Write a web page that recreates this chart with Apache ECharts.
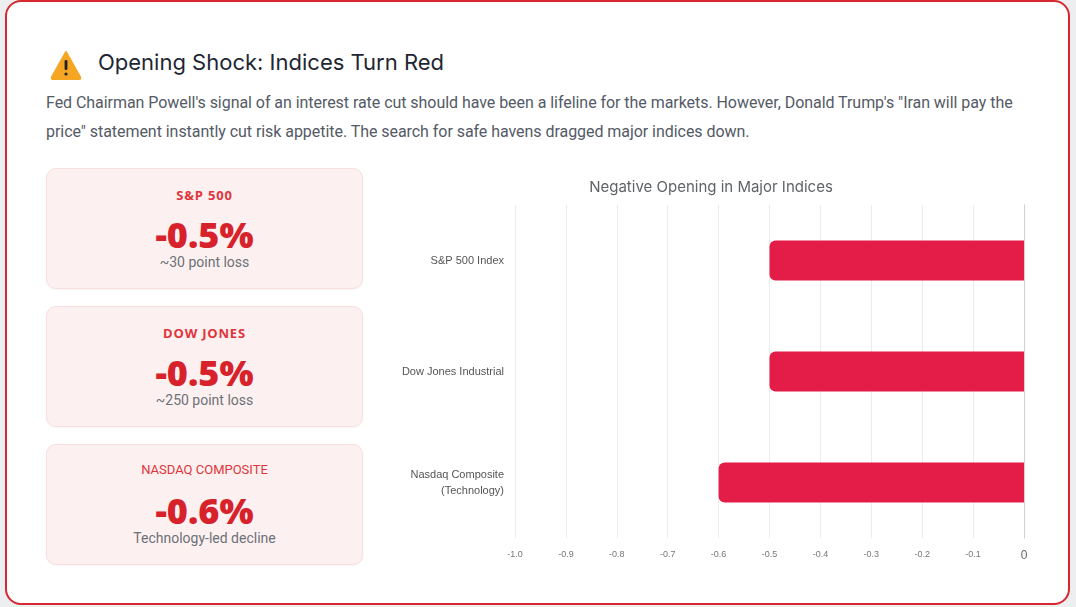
<!DOCTYPE html>
<html><head><meta charset="utf-8">
<script src="https://cdn.jsdelivr.net/npm/echarts@6/dist/echarts.min.js"></script>
<style>
html,body{margin:0;padding:0;width:1076px;height:607px;overflow:hidden;background:#eceef0;font-family:Roboto,"Noto Sans",sans-serif;}
.card{position:absolute;left:5px;top:0px;width:1061px;height:601px;border:2px solid #d7282f;border-radius:16px;background:#fff;}
.title{position:absolute;left:91px;top:47px;font-family:Inter,Roboto,sans-serif;font-size:22px;color:#1f2633;font-weight:400;}
.icon{position:absolute;left:43px;top:48px;}
.desc{position:absolute;left:39px;top:86px;width:1000px;font-size:16px;line-height:29px;color:#545a66;letter-spacing:-0.05px;}
.kpi{position:absolute;left:39px;width:315px;height:119px;background:#fdf0f0;border:1px solid #f9dede;border-radius:10px;text-align:center;box-shadow:0 1px 2px rgba(0,0,0,0.04);}
.kpi .lab{position:absolute;left:0;right:0;top:17px;font-size:13px;font-weight:700;color:#e0353b;letter-spacing:0.8px;font-family:"Open Sans",sans-serif;}
.kpi .lab.thin{font-weight:400;letter-spacing:0;font-family:Roboto,sans-serif;}
.kpi .val{position:absolute;left:0;right:0;top:41px;font-size:36px;font-weight:800;color:#d7222b;font-family:"Open Sans",sans-serif;}
.kpi .sub{position:absolute;left:0;right:0;top:85px;font-size:14px;color:#6c7078;}
#chart{position:absolute;left:375px;top:165px;width:670px;height:400px;}
</style></head>
<body>
<div class="card">
  <svg class="icon" width="32" height="30" viewBox="0 0 32 30"><path d="M16 2 L30 27 Q31 29 29 29 L3 29 Q1 29 2 27 Z" fill="#f5a623" stroke="#f5a623" stroke-linejoin="round" stroke-width="2"/><rect x="14.6" y="10" width="2.8" height="10" rx="1.2" fill="#222"/><circle cx="16" cy="24" r="1.6" fill="#222"/></svg>
  <div class="title">Opening Shock: Indices Turn Red</div>
  <div class="desc">Fed Chairman Powell's signal of an interest rate cut should have been a lifeline for the markets. However, Donald Trump's "Iran will pay the price" statement instantly cut risk appetite. The search for safe havens dragged major indices down.</div>
  <div class="kpi" style="top:166px"><div class="lab">S&amp;P 500</div><div class="val">-0.5%</div><div class="sub">~30 point loss</div></div>
  <div class="kpi" style="top:304px"><div class="lab">DOW JONES</div><div class="val">-0.5%</div><div class="sub">~250 point loss</div></div>
  <div class="kpi" style="top:442px"><div class="lab thin">NASDAQ COMPOSITE</div><div class="val">-0.6%</div><div class="sub">Technology-led decline</div></div>
</div>
<div id="chart"></div>
<script>
const categories = ["S&P 500 Index", "Dow Jones Industrial", "Nasdaq Composite\n(Technology)"];
const changes = [-0.5, -0.5, -0.6];
const chartTitle = "Negative Opening in Major Indices";

const chart = echarts.init(document.getElementById('chart'));
chart.setOption({
  animation: false,
  title: { text: chartTitle, left: 331, top: 10, textAlign: 'center',
    textStyle: { fontSize: 15, fontWeight: 'normal', color: '#5f6368', fontFamily: 'Inter, Roboto, sans-serif' } },
  grid: { left: 140, right: 21, top: 40, bottom: 27 },
  xAxis: {
    type: 'value', min: -1, max: 0, interval: 0.1,
    axisLine: { show: false }, axisTick: { show: false },
    splitLine: { show: true, lineStyle: { color: '#ececec' } },
    axisLabel: { fontSize: 9, color: '#777', margin: 12,
      formatter: v => Math.abs(v) < 1e-9 ? '{z|0}' : v.toFixed(1),
      rich: { z: { fontSize: 12, color: '#666' } } }
  },
  yAxis: {
    type: 'category', data: categories, inverse: true,
    axisLine: { show: true, lineStyle: { color: '#d0d0d0' } }, axisTick: { show: false },
    axisLabel: { fontSize: 11, color: '#555', margin: 11, align: 'right', lineHeight: 16 }
  },
  series: [{
    type: 'bar', data: changes, barWidth: 40,
    itemStyle: { color: '#e31c48', borderRadius: [6, 0, 0, 6] }
  }]
});
</script>
</body></html>
